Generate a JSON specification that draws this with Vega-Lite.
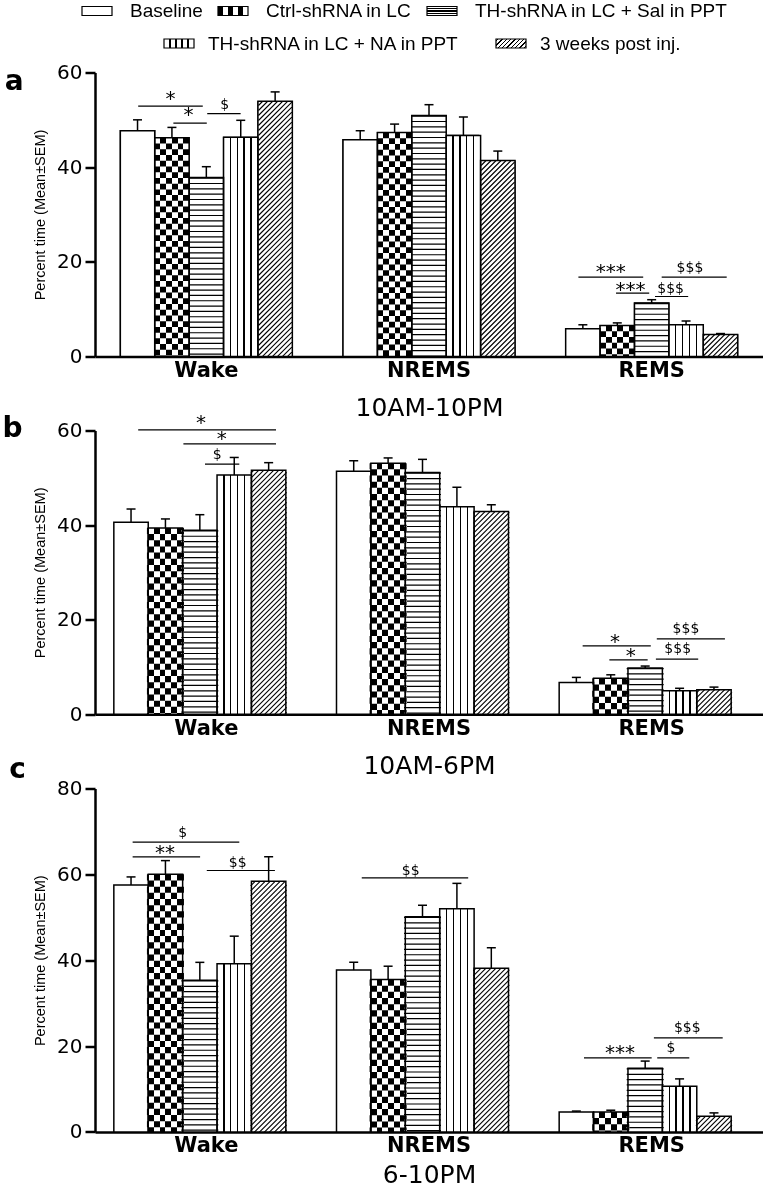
{
"$schema": "https://vega.github.io/schema/vega-lite/v6.json",
"background": "white",
"padding": {"left": 2, "top": -5.5, "right": 0, "bottom": 0},
"bounds": "flush",
"spacing": 74,
"config": {
  "view": {"stroke": null},
  "font": "Liberation Sans",
  "axis": {"grid": false, "domainColor": "black", "domainWidth": 2.5, "tickColor": "black", "labelColor": "black", "titleColor": "black"},
  "axisY": {"labelFont": "DejaVu Sans", "labelFontSize": 20, "tickSize": 10, "tickWidth": 2.5, "labelPadding": 3, "titleFont": "Liberation Sans", "titleFontSize": 14.5, "titleFontWeight": "normal", "titlePadding": 9},
  "axisX": {"labelFont": "DejaVu Sans", "labelFontSize": 21, "labelFontWeight": "bold", "ticks": false, "labelPadding": 3, "labelAngle": 0, "titleFont": "DejaVu Sans", "titleFontSize": 25, "titleFontWeight": "normal", "titlePadding": 15},
  "legend": {"labelFont": "Liberation Sans", "labelFontSize": 19, "labelColor": "black", "labelLimit": 400, "padding": 0, "symbolStrokeColor": "black", "symbolStrokeWidth": 1.2},
  "title": {"color": "black"}
},
"datasets": {
  "a": [
    {"state": "Wake", "series": "Baseline", "mean": 47.7, "top": 50.0},
    {"state": "Wake", "series": "Ctrl-shRNA in LC", "mean": 46.2, "top": 48.4},
    {"state": "Wake", "series": "TH-shRNA in LC + Sal in PPT", "mean": 37.8, "top": 40.1},
    {"state": "Wake", "series": "TH-shRNA in LC + NA in PPT", "mean": 46.3, "top": 49.9},
    {"state": "Wake", "series": "3 weeks post inj.", "mean": 53.9, "top": 55.9},
    {"state": "NREMS", "series": "Baseline", "mean": 45.8, "top": 47.7},
    {"state": "NREMS", "series": "Ctrl-shRNA in LC", "mean": 47.3, "top": 49.1},
    {"state": "NREMS", "series": "TH-shRNA in LC + Sal in PPT", "mean": 50.9, "top": 53.2},
    {"state": "NREMS", "series": "TH-shRNA in LC + NA in PPT", "mean": 46.7, "top": 50.6},
    {"state": "NREMS", "series": "3 weeks post inj.", "mean": 41.4, "top": 43.4},
    {"state": "REMS", "series": "Baseline", "mean": 5.85, "top": 6.7},
    {"state": "REMS", "series": "Ctrl-shRNA in LC", "mean": 6.55, "top": 7.1},
    {"state": "REMS", "series": "TH-shRNA in LC + Sal in PPT", "mean": 11.3, "top": 12.0},
    {"state": "REMS", "series": "TH-shRNA in LC + NA in PPT", "mean": 6.7, "top": 7.5},
    {"state": "REMS", "series": "3 weeks post inj.", "mean": 4.65, "top": 4.85}
  ],
  "b": [
    {"state": "Wake", "series": "Baseline", "mean": 40.6, "top": 43.4},
    {"state": "Wake", "series": "Ctrl-shRNA in LC", "mean": 39.4, "top": 41.3},
    {"state": "Wake", "series": "TH-shRNA in LC + Sal in PPT", "mean": 38.9, "top": 42.2},
    {"state": "Wake", "series": "TH-shRNA in LC + NA in PPT", "mean": 50.6, "top": 54.3},
    {"state": "Wake", "series": "3 weeks post inj.", "mean": 51.6, "top": 53.2},
    {"state": "NREMS", "series": "Baseline", "mean": 51.4, "top": 53.6},
    {"state": "NREMS", "series": "Ctrl-shRNA in LC", "mean": 53.1, "top": 54.2},
    {"state": "NREMS", "series": "TH-shRNA in LC + Sal in PPT", "mean": 51.1, "top": 53.9},
    {"state": "NREMS", "series": "TH-shRNA in LC + NA in PPT", "mean": 43.9, "top": 48.0},
    {"state": "NREMS", "series": "3 weeks post inj.", "mean": 42.9, "top": 44.3},
    {"state": "REMS", "series": "Baseline", "mean": 6.7, "top": 7.8},
    {"state": "REMS", "series": "Ctrl-shRNA in LC", "mean": 7.6, "top": 8.35},
    {"state": "REMS", "series": "TH-shRNA in LC + Sal in PPT", "mean": 9.8, "top": 10.2},
    {"state": "REMS", "series": "TH-shRNA in LC + NA in PPT", "mean": 5.0, "top": 5.5},
    {"state": "REMS", "series": "3 weeks post inj.", "mean": 5.2, "top": 5.75}
  ],
  "c": [
    {"state": "Wake", "series": "Baseline", "mean": 57.5, "top": 59.4},
    {"state": "Wake", "series": "Ctrl-shRNA in LC", "mean": 60.0, "top": 63.2},
    {"state": "Wake", "series": "TH-shRNA in LC + Sal in PPT", "mean": 35.3, "top": 39.5},
    {"state": "Wake", "series": "TH-shRNA in LC + NA in PPT", "mean": 39.2, "top": 45.6},
    {"state": "Wake", "series": "3 weeks post inj.", "mean": 58.4, "top": 64.1},
    {"state": "NREMS", "series": "Baseline", "mean": 37.7, "top": 39.5},
    {"state": "NREMS", "series": "Ctrl-shRNA in LC", "mean": 35.5, "top": 38.6},
    {"state": "NREMS", "series": "TH-shRNA in LC + Sal in PPT", "mean": 50.1, "top": 52.8},
    {"state": "NREMS", "series": "TH-shRNA in LC + NA in PPT", "mean": 52.0, "top": 57.9},
    {"state": "NREMS", "series": "3 weeks post inj.", "mean": 38.1, "top": 42.9},
    {"state": "REMS", "series": "Baseline", "mean": 4.66, "top": 4.85},
    {"state": "REMS", "series": "Ctrl-shRNA in LC", "mean": 4.66, "top": 5.05},
    {"state": "REMS", "series": "TH-shRNA in LC + Sal in PPT", "mean": 14.8, "top": 16.5},
    {"state": "REMS", "series": "TH-shRNA in LC + NA in PPT", "mean": 10.65, "top": 12.35},
    {"state": "REMS", "series": "3 weeks post inj.", "mean": 3.66, "top": 4.43}
  ],
  "sa": [
    {"x1": 0.194, "x2": 0.484, "ly": 52.9, "tx": 0.339, "ty": 53.18, "label": "*"},
    {"x1": 0.352, "x2": 0.502, "ly": 49.3, "tx": 0.42, "ty": 49.68, "label": "*"},
    {"x1": 0.504, "x2": 0.654, "ly": 51.3, "tx": 0.582, "ty": 52.36, "label": "$"},
    {"x1": 2.171, "x2": 2.462, "ly": 16.75, "tx": 2.316, "ty": 16.57, "label": "***"},
    {"x1": 2.34, "x2": 2.489, "ly": 13.37, "tx": 2.405, "ty": 12.83, "label": "***"},
    {"x1": 2.545, "x2": 2.837, "ly": 16.75, "tx": 2.672, "ty": 17.94, "label": "$$$"},
    {"x1": 2.515, "x2": 2.664, "ly": 12.68, "tx": 2.585, "ty": 13.44, "label": "$$$"}
  ],
  "sb": [
    {"x1": 0.194, "x2": 0.813, "ly": 60.15, "tx": 0.476, "ty": 60.3, "label": "*"},
    {"x1": 0.397, "x2": 0.813, "ly": 57.19, "tx": 0.569, "ty": 57.0, "label": "*"},
    {"x1": 0.494, "x2": 0.648, "ly": 52.9, "tx": 0.549, "ty": 53.93, "label": "$"},
    {"x1": 2.19, "x2": 2.496, "ly": 14.48, "tx": 2.335, "ty": 14.0, "label": "*"},
    {"x1": 2.31, "x2": 2.482, "ly": 11.52, "tx": 2.406, "ty": 10.98, "label": "*"},
    {"x1": 2.523, "x2": 2.829, "ly": 15.96, "tx": 2.654, "ty": 17.29, "label": "$$$"},
    {"x1": 2.519, "x2": 2.709, "ly": 11.67, "tx": 2.617, "ty": 12.92, "label": "$$$"}
  ],
  "sc": [
    {"x1": 0.169, "x2": 0.648, "ly": 67.49, "tx": 0.394, "ty": 68.8, "label": "$"},
    {"x1": 0.169, "x2": 0.472, "ly": 64.07, "tx": 0.314, "ty": 63.63, "label": "**"},
    {"x1": 0.502, "x2": 0.808, "ly": 60.9, "tx": 0.641, "ty": 61.65, "label": "$$"},
    {"x1": 1.198, "x2": 1.676, "ly": 59.17, "tx": 1.418, "ty": 59.94, "label": "$$"},
    {"x1": 2.196, "x2": 2.5, "ly": 17.24, "tx": 2.358, "ty": 17.03, "label": "***"},
    {"x1": 2.525, "x2": 2.669, "ly": 17.24, "tx": 2.587, "ty": 18.54, "label": "$"},
    {"x1": 2.51, "x2": 2.819, "ly": 21.9, "tx": 2.66, "ty": 23.2, "label": "$$$"}
  ]
},
"vconcat": [
  {
    "width": 668, "height": 284,
    "title": {"text": "a", "orient": "left", "anchor": "end", "angle": 0, "frame": "group", "align": "right", "baseline": "alphabetic", "dx": 19, "dy": 17.3, "offset": 9, "font": "DejaVu Sans", "fontSize": 28, "fontWeight": "bold", "color": "black"},
    "layer": [
      {
        "data": {"name": "a"},
        "encoding": {
          "x": {"field": "state", "type": "nominal", "sort": ["Wake", "NREMS", "REMS"], "scale": {"paddingInner": 0.2275, "paddingOuter": 0.11375}, "axis": {"title": "10AM-10PM"}},
          "xOffset": {"field": "series", "type": "nominal", "sort": ["Baseline", "Ctrl-shRNA in LC", "TH-shRNA in LC + Sal in PPT", "TH-shRNA in LC + NA in PPT", "3 weeks post inj."], "scale": {"paddingInner": 0, "paddingOuter": 0}},
          "y": {"field": "mean", "type": "quantitative", "scale": {"domain": [0, 60], "nice": false}, "axis": {"title": "Percent time (Mean±SEM)", "values": [0, 20, 40, 60]}}
        },
        "layer": [
          {
            "transform": [{"filter": {"field": "series", "oneOf": ["Baseline", "Ctrl-shRNA in LC", "TH-shRNA in LC + Sal in PPT"]}}],
            "mark": {"type": "bar", "stroke": "black", "strokeWidth": 1.2},
            "encoding": {"fill": {"field": "series", "type": "nominal",
              "scale": {"domain": ["Baseline", "Ctrl-shRNA in LC", "TH-shRNA in LC + Sal in PPT"], "range": [
                "white",
                {"expr": "{gradient:'linear',x1:0,y1:0,x2:1,y2:0,stops:[{offset:0,color:'#000'},{offset:0.1667,color:'#000'},{offset:0.1667,color:'#fff'},{offset:0.3333,color:'#fff'},{offset:0.3333,color:'#000'},{offset:0.5,color:'#000'},{offset:0.5,color:'#fff'},{offset:0.6667,color:'#fff'},{offset:0.6667,color:'#000'},{offset:0.8333,color:'#000'},{offset:0.8333,color:'#fff'},{offset:1,color:'#fff'}]}"},
                {"expr": "{gradient:'linear',x1:0,y1:0,x2:0,y2:1,stops:[{offset:0,color:'#fff'},{offset:0.2,color:'#fff'},{offset:0.2,color:'#000'},{offset:0.32,color:'#000'},{offset:0.32,color:'#fff'},{offset:0.44,color:'#fff'},{offset:0.44,color:'#000'},{offset:0.56,color:'#000'},{offset:0.56,color:'#fff'},{offset:0.68,color:'#fff'},{offset:0.68,color:'#000'},{offset:0.8,color:'#000'},{offset:0.8,color:'#fff'},{offset:1,color:'#fff'}]}"}
              ]},
              "legend": {"title": null, "orient": "none", "legendX": -14, "legendY": -77.5, "direction": "horizontal", "columns": 3, "labelOffset": 17, "columnPadding": 12, "symbolType": "M-1,-0.3H1V0.3H-1Z", "symbolSize": 900}
            }}
          },
          {
            "transform": [{"filter": {"field": "series", "oneOf": ["TH-shRNA in LC + NA in PPT", "3 weeks post inj."]}}],
            "mark": {"type": "bar", "stroke": "black", "strokeWidth": 1.2},
            "encoding": {"fill": {"field": "series", "type": "nominal",
              "scale": {"domain": ["TH-shRNA in LC + NA in PPT", "3 weeks post inj."], "range": [
                {"expr": "{gradient:'linear',x1:0,y1:0,x2:1,y2:0,stops:[{offset:0,color:'#fff'},{offset:0.18,color:'#fff'},{offset:0.18,color:'#000'},{offset:0.218,color:'#000'},{offset:0.218,color:'#fff'},{offset:0.38,color:'#fff'},{offset:0.38,color:'#000'},{offset:0.418,color:'#000'},{offset:0.418,color:'#fff'},{offset:0.58,color:'#fff'},{offset:0.58,color:'#000'},{offset:0.618,color:'#000'},{offset:0.618,color:'#fff'},{offset:0.78,color:'#fff'},{offset:0.78,color:'#000'},{offset:0.818,color:'#000'},{offset:0.818,color:'#fff'},{offset:1,color:'#fff'}]}"},
                {"expr": "{gradient:'linear',x1:0,y1:0,x2:1.193,y2:0.358,stops:[{offset:0,color:'#fff'},{offset:0.04,color:'#fff'},{offset:0.04,color:'#000'},{offset:0.075,color:'#000'},{offset:0.075,color:'#fff'},{offset:0.151,color:'#fff'},{offset:0.151,color:'#000'},{offset:0.186,color:'#000'},{offset:0.186,color:'#fff'},{offset:0.262,color:'#fff'},{offset:0.262,color:'#000'},{offset:0.297,color:'#000'},{offset:0.297,color:'#fff'},{offset:0.373,color:'#fff'},{offset:0.373,color:'#000'},{offset:0.408,color:'#000'},{offset:0.408,color:'#fff'},{offset:0.484,color:'#fff'},{offset:0.484,color:'#000'},{offset:0.519,color:'#000'},{offset:0.519,color:'#fff'},{offset:0.596,color:'#fff'},{offset:0.596,color:'#000'},{offset:0.631,color:'#000'},{offset:0.631,color:'#fff'},{offset:0.707,color:'#fff'},{offset:0.707,color:'#000'},{offset:0.742,color:'#000'},{offset:0.742,color:'#fff'},{offset:0.818,color:'#fff'},{offset:0.818,color:'#000'},{offset:0.853,color:'#000'},{offset:0.853,color:'#fff'},{offset:0.929,color:'#fff'},{offset:0.929,color:'#000'},{offset:0.964,color:'#000'},{offset:0.964,color:'#fff'},{offset:1,color:'#fff'}]}"}
              ]},
              "legend": {"title": null, "orient": "none", "legendX": 68, "legendY": -45, "direction": "horizontal", "columns": 2, "labelOffset": 13, "columnPadding": 33, "symbolType": "M-1,-0.3H1V0.3H-1Z", "symbolSize": 900}
            }}
          },
          {
            "mark": {"type": "bar", "strokeWidth": 0},
            "encoding": {"fill": {"condition": [
              {"test": "datum.series === 'Ctrl-shRNA in LC'", "value": {"expr": "{gradient:'linear',x1:0,y1:0,x2:1,y2:0,stops:[{offset:0,color:'#000'},{offset:0.1667,color:'#000'},{offset:0.1667,color:'#fff'},{offset:0.3333,color:'#fff'},{offset:0.3333,color:'#000'},{offset:0.5,color:'#000'},{offset:0.5,color:'#fff'},{offset:0.6667,color:'#fff'},{offset:0.6667,color:'#000'},{offset:0.8333,color:'#000'},{offset:0.8333,color:'#fff'},{offset:1,color:'#fff'}]}"}},
              {"test": "datum.series === 'TH-shRNA in LC + NA in PPT'", "value": {"expr": "{gradient:'linear',x1:0,y1:0,x2:1,y2:0,stops:[{offset:0,color:'#fff'},{offset:0.18,color:'#fff'},{offset:0.18,color:'#000'},{offset:0.218,color:'#000'},{offset:0.218,color:'#fff'},{offset:0.38,color:'#fff'},{offset:0.38,color:'#000'},{offset:0.418,color:'#000'},{offset:0.418,color:'#fff'},{offset:0.58,color:'#fff'},{offset:0.58,color:'#000'},{offset:0.618,color:'#000'},{offset:0.618,color:'#fff'},{offset:0.78,color:'#fff'},{offset:0.78,color:'#000'},{offset:0.818,color:'#000'},{offset:0.818,color:'#fff'},{offset:1,color:'#fff'}]}"}}
            ], "value": "white"}}
          },
          {
            "transform": [{"filter": "datum.series === '3 weeks post inj.'"}],
            "mark": {"type": "point", "shape": "M-16.7,34l33.4,-33.4M-16.7,29l33.4,-33.4M-16.7,24l33.4,-33.4M-16.7,19l33.4,-33.4M-16.7,14l33.4,-33.4M-16.7,9l33.4,-33.4M-16.7,4l33.4,-33.4M-16.7,-1l33.4,-33.4M-16.7,-6l33.4,-33.4M-16.7,-11l33.4,-33.4M-16.7,-16l33.4,-33.4M-16.7,-21l33.4,-33.4M-16.7,-26l33.4,-33.4M-16.7,-31l33.4,-33.4M-16.7,-36l33.4,-33.4M-16.7,-41l33.4,-33.4M-16.7,-46l33.4,-33.4M-16.7,-51l33.4,-33.4M-16.7,-56l33.4,-33.4M-16.7,-61l33.4,-33.4M-16.7,-66l33.4,-33.4M-16.7,-71l33.4,-33.4M-16.7,-76l33.4,-33.4M-16.7,-81l33.4,-33.4M-16.7,-86l33.4,-33.4M-16.7,-91l33.4,-33.4M-16.7,-96l33.4,-33.4M-16.7,-101l33.4,-33.4M-16.7,-106l33.4,-33.4M-16.7,-111l33.4,-33.4M-16.7,-116l33.4,-33.4M-16.7,-121l33.4,-33.4M-16.7,-126l33.4,-33.4M-16.7,-131l33.4,-33.4M-16.7,-136l33.4,-33.4M-16.7,-141l33.4,-33.4M-16.7,-146l33.4,-33.4M-16.7,-151l33.4,-33.4M-16.7,-156l33.4,-33.4M-16.7,-161l33.4,-33.4M-16.7,-166l33.4,-33.4M-16.7,-171l33.4,-33.4M-16.7,-176l33.4,-33.4M-16.7,-181l33.4,-33.4M-16.7,-186l33.4,-33.4M-16.7,-191l33.4,-33.4M-16.7,-196l33.4,-33.4M-16.7,-201l33.4,-33.4M-16.7,-206l33.4,-33.4M-16.7,-211l33.4,-33.4M-16.7,-216l33.4,-33.4M-16.7,-221l33.4,-33.4M-16.7,-226l33.4,-33.4M-16.7,-231l33.4,-33.4M-16.7,-236l33.4,-33.4M-16.7,-241l33.4,-33.4M-16.7,-246l33.4,-33.4M-16.7,-251l33.4,-33.4M-16.7,-256l33.4,-33.4", "size": 4, "filled": false, "stroke": "black", "strokeWidth": 1.1, "opacity": 1, "clip": true},
            "encoding": {"y": {"datum": 0, "type": "quantitative", "title": "Percent time (Mean±SEM)"}}
          },
          {
            "transform": [{"filter": "datum.series === '3 weeks post inj.'"}],
            "mark": {"type": "rule", "stroke": "white", "strokeWidth": 37},
            "encoding": {"y2": {"datum": 61}}
          },
          {
            "transform": [{"filter": "datum.series === 'TH-shRNA in LC + Sal in PPT'"}],
            "mark": {"type": "rule", "stroke": "black", "strokeWidth": 34.4, "strokeDash": [1.2, 4.13]},
            "encoding": {"y2": {"datum": 0}}
          },
          {
            "transform": [{"filter": "datum.series === 'Ctrl-shRNA in LC'"}],
            "mark": {"type": "rule", "stroke": "white", "strokeWidth": 34.4, "strokeDash": [5.73, 5.73], "blend": "difference"},
            "encoding": {"y2": {"datum": 0}}
          },
          {
            "mark": {"type": "bar", "fill": "transparent", "stroke": "black", "strokeWidth": 1.5}
          },
          {
            "mark": {"type": "rule", "stroke": "black", "strokeWidth": 1.5},
            "encoding": {"y2": {"field": "top"}}
          },
          {
            "mark": {"type": "tick", "orient": "horizontal", "size": 9, "thickness": 1.5, "color": "black", "opacity": 1},
            "encoding": {"y": {"field": "top", "type": "quantitative", "title": "Percent time (Mean±SEM)"}}
          }
        ],
        "resolve": {"scale": {"fill": "independent"}, "legend": {"fill": "independent"}}
      },
      {
        "data": {"name": "sa"},
        "layer": [
          {
            "mark": {"type": "rule", "stroke": "black", "strokeWidth": 1.2},
            "encoding": {
              "x": {"field": "x1", "type": "quantitative", "scale": {"domain": [0, 3], "nice": false, "zero": false}, "axis": null},
              "x2": {"field": "x2"},
              "y": {"field": "ly", "type": "quantitative", "scale": {"domain": [0, 60], "nice": false}, "title": "Percent time (Mean±SEM)"}
            }
          },
          {
            "mark": {"type": "text", "font": "DejaVu Sans", "baseline": "alphabetic", "align": "center", "color": "black"},
            "encoding": {
              "x": {"field": "tx", "type": "quantitative", "scale": {"domain": [0, 3], "nice": false, "zero": false}, "axis": null},
              "y": {"field": "ty", "type": "quantitative", "scale": {"domain": [0, 60], "nice": false}, "title": "Percent time (Mean±SEM)"},
              "text": {"field": "label"},
              "size": {"condition": {"test": "indexof(datum.label, '*') >= 0", "value": 20}, "value": 14}
            }
          }
        ]
      }
    ],
    "resolve": {"scale": {"x": "independent"}, "axis": {"x": "independent"}}
  },
  {
    "width": 668, "height": 283.8,
    "title": {"text": "b", "orient": "left", "anchor": "end", "angle": 0, "frame": "group", "align": "right", "baseline": "alphabetic", "dx": 19, "dy": 6, "offset": 9, "font": "DejaVu Sans", "fontSize": 28, "fontWeight": "bold", "color": "black"},
    "layer": [
      {
        "data": {"name": "b"},
        "encoding": {
          "x": {"field": "state", "type": "nominal", "sort": ["Wake", "NREMS", "REMS"], "scale": {"paddingInner": 0.16916, "paddingOuter": 0.08458}, "axis": {"title": "10AM-6PM"}},
          "xOffset": {"field": "series", "type": "nominal", "sort": ["Baseline", "Ctrl-shRNA in LC", "TH-shRNA in LC + Sal in PPT", "TH-shRNA in LC + NA in PPT", "3 weeks post inj."], "scale": {"paddingInner": 0, "paddingOuter": 0}},
          "y": {"field": "mean", "type": "quantitative", "scale": {"domain": [0, 60], "nice": false}, "axis": {"title": "Percent time (Mean±SEM)", "values": [0, 20, 40, 60]}}
        },
        "layer": [
          {
            "mark": {"type": "bar", "strokeWidth": 0},
            "encoding": {"fill": {"condition": [
              {"test": "datum.series === 'Ctrl-shRNA in LC'", "value": {"expr": "{gradient:'linear',x1:0,y1:0,x2:1,y2:0,stops:[{offset:0,color:'#000'},{offset:0.1667,color:'#000'},{offset:0.1667,color:'#fff'},{offset:0.3333,color:'#fff'},{offset:0.3333,color:'#000'},{offset:0.5,color:'#000'},{offset:0.5,color:'#fff'},{offset:0.6667,color:'#fff'},{offset:0.6667,color:'#000'},{offset:0.8333,color:'#000'},{offset:0.8333,color:'#fff'},{offset:1,color:'#fff'}]}"}},
              {"test": "datum.series === 'TH-shRNA in LC + NA in PPT'", "value": {"expr": "{gradient:'linear',x1:0,y1:0,x2:1,y2:0,stops:[{offset:0,color:'#fff'},{offset:0.18,color:'#fff'},{offset:0.18,color:'#000'},{offset:0.218,color:'#000'},{offset:0.218,color:'#fff'},{offset:0.38,color:'#fff'},{offset:0.38,color:'#000'},{offset:0.418,color:'#000'},{offset:0.418,color:'#fff'},{offset:0.58,color:'#fff'},{offset:0.58,color:'#000'},{offset:0.618,color:'#000'},{offset:0.618,color:'#fff'},{offset:0.78,color:'#fff'},{offset:0.78,color:'#000'},{offset:0.818,color:'#000'},{offset:0.818,color:'#fff'},{offset:1,color:'#fff'}]}"}}
            ], "value": "white"}}
          },
          {
            "transform": [{"filter": "datum.series === '3 weeks post inj.'"}],
            "mark": {"type": "point", "shape": "M-18,34l36,-36M-18,29l36,-36M-18,24l36,-36M-18,19l36,-36M-18,14l36,-36M-18,9l36,-36M-18,4l36,-36M-18,-1l36,-36M-18,-6l36,-36M-18,-11l36,-36M-18,-16l36,-36M-18,-21l36,-36M-18,-26l36,-36M-18,-31l36,-36M-18,-36l36,-36M-18,-41l36,-36M-18,-46l36,-36M-18,-51l36,-36M-18,-56l36,-36M-18,-61l36,-36M-18,-66l36,-36M-18,-71l36,-36M-18,-76l36,-36M-18,-81l36,-36M-18,-86l36,-36M-18,-91l36,-36M-18,-96l36,-36M-18,-101l36,-36M-18,-106l36,-36M-18,-111l36,-36M-18,-116l36,-36M-18,-121l36,-36M-18,-126l36,-36M-18,-131l36,-36M-18,-136l36,-36M-18,-141l36,-36M-18,-146l36,-36M-18,-151l36,-36M-18,-156l36,-36M-18,-161l36,-36M-18,-166l36,-36M-18,-171l36,-36M-18,-176l36,-36M-18,-181l36,-36M-18,-186l36,-36M-18,-191l36,-36M-18,-196l36,-36M-18,-201l36,-36M-18,-206l36,-36M-18,-211l36,-36M-18,-216l36,-36M-18,-221l36,-36M-18,-226l36,-36M-18,-231l36,-36M-18,-236l36,-36M-18,-241l36,-36M-18,-246l36,-36M-18,-251l36,-36M-18,-256l36,-36", "size": 4, "filled": false, "stroke": "black", "strokeWidth": 1.1, "opacity": 1, "clip": true},
            "encoding": {"y": {"datum": 0, "type": "quantitative", "title": "Percent time (Mean±SEM)"}}
          },
          {
            "transform": [{"filter": "datum.series === '3 weeks post inj.'"}],
            "mark": {"type": "rule", "stroke": "white", "strokeWidth": 39.6},
            "encoding": {"y2": {"datum": 61}}
          },
          {
            "transform": [{"filter": "datum.series === 'TH-shRNA in LC + Sal in PPT'"}],
            "mark": {"type": "rule", "stroke": "black", "strokeWidth": 37, "strokeDash": [1.2, 4.13]},
            "encoding": {"y2": {"datum": 0}}
          },
          {
            "transform": [{"filter": "datum.series === 'Ctrl-shRNA in LC'"}],
            "mark": {"type": "rule", "stroke": "white", "strokeWidth": 37, "strokeDash": [6.17, 6.17], "blend": "difference"},
            "encoding": {"y2": {"datum": 0}}
          },
          {
            "mark": {"type": "bar", "fill": "transparent", "stroke": "black", "strokeWidth": 1.5}
          },
          {
            "mark": {"type": "rule", "stroke": "black", "strokeWidth": 1.5},
            "encoding": {"y2": {"field": "top"}}
          },
          {
            "mark": {"type": "tick", "orient": "horizontal", "size": 9, "thickness": 1.5, "color": "black", "opacity": 1},
            "encoding": {"y": {"field": "top", "type": "quantitative", "title": "Percent time (Mean±SEM)"}}
          }
        ]
      },
      {
        "data": {"name": "sb"},
        "layer": [
          {
            "mark": {"type": "rule", "stroke": "black", "strokeWidth": 1.2},
            "encoding": {
              "x": {"field": "x1", "type": "quantitative", "scale": {"domain": [0, 3], "nice": false, "zero": false}, "axis": null},
              "x2": {"field": "x2"},
              "y": {"field": "ly", "type": "quantitative", "scale": {"domain": [0, 60], "nice": false}, "title": "Percent time (Mean±SEM)"}
            }
          },
          {
            "mark": {"type": "text", "font": "DejaVu Sans", "baseline": "alphabetic", "align": "center", "color": "black"},
            "encoding": {
              "x": {"field": "tx", "type": "quantitative", "scale": {"domain": [0, 3], "nice": false, "zero": false}, "axis": null},
              "y": {"field": "ty", "type": "quantitative", "scale": {"domain": [0, 60], "nice": false}, "title": "Percent time (Mean±SEM)"},
              "text": {"field": "label"},
              "size": {"condition": {"test": "indexof(datum.label, '*') >= 0", "value": 20}, "value": 14}
            }
          }
        ]
      }
    ],
    "resolve": {"scale": {"x": "independent"}, "axis": {"x": "independent"}}
  },
  {
    "width": 668, "height": 343.4,
    "title": {"text": "c", "orient": "left", "anchor": "end", "angle": 0, "frame": "group", "align": "right", "baseline": "alphabetic", "dx": 19, "dy": -10.6, "offset": 9, "font": "DejaVu Sans", "fontSize": 28, "fontWeight": "bold", "color": "black"},
    "layer": [
      {
        "data": {"name": "c"},
        "encoding": {
          "x": {"field": "state", "type": "nominal", "sort": ["Wake", "NREMS", "REMS"], "scale": {"paddingInner": 0.16916, "paddingOuter": 0.08458}, "axis": {"title": "6-10PM", "titlePadding": 7}},
          "xOffset": {"field": "series", "type": "nominal", "sort": ["Baseline", "Ctrl-shRNA in LC", "TH-shRNA in LC + Sal in PPT", "TH-shRNA in LC + NA in PPT", "3 weeks post inj."], "scale": {"paddingInner": 0, "paddingOuter": 0}},
          "y": {"field": "mean", "type": "quantitative", "scale": {"domain": [0, 80], "nice": false}, "axis": {"title": "Percent time (Mean±SEM)", "values": [0, 20, 40, 60, 80]}}
        },
        "layer": [
          {
            "mark": {"type": "bar", "strokeWidth": 0},
            "encoding": {"fill": {"condition": [
              {"test": "datum.series === 'Ctrl-shRNA in LC'", "value": {"expr": "{gradient:'linear',x1:0,y1:0,x2:1,y2:0,stops:[{offset:0,color:'#000'},{offset:0.1667,color:'#000'},{offset:0.1667,color:'#fff'},{offset:0.3333,color:'#fff'},{offset:0.3333,color:'#000'},{offset:0.5,color:'#000'},{offset:0.5,color:'#fff'},{offset:0.6667,color:'#fff'},{offset:0.6667,color:'#000'},{offset:0.8333,color:'#000'},{offset:0.8333,color:'#fff'},{offset:1,color:'#fff'}]}"}},
              {"test": "datum.series === 'TH-shRNA in LC + NA in PPT'", "value": {"expr": "{gradient:'linear',x1:0,y1:0,x2:1,y2:0,stops:[{offset:0,color:'#fff'},{offset:0.18,color:'#fff'},{offset:0.18,color:'#000'},{offset:0.218,color:'#000'},{offset:0.218,color:'#fff'},{offset:0.38,color:'#fff'},{offset:0.38,color:'#000'},{offset:0.418,color:'#000'},{offset:0.418,color:'#fff'},{offset:0.58,color:'#fff'},{offset:0.58,color:'#000'},{offset:0.618,color:'#000'},{offset:0.618,color:'#fff'},{offset:0.78,color:'#fff'},{offset:0.78,color:'#000'},{offset:0.818,color:'#000'},{offset:0.818,color:'#fff'},{offset:1,color:'#fff'}]}"}}
            ], "value": "white"}}
          },
          {
            "transform": [{"filter": "datum.series === '3 weeks post inj.'"}],
            "mark": {"type": "point", "shape": "M-18,34l36,-36M-18,29l36,-36M-18,24l36,-36M-18,19l36,-36M-18,14l36,-36M-18,9l36,-36M-18,4l36,-36M-18,-1l36,-36M-18,-6l36,-36M-18,-11l36,-36M-18,-16l36,-36M-18,-21l36,-36M-18,-26l36,-36M-18,-31l36,-36M-18,-36l36,-36M-18,-41l36,-36M-18,-46l36,-36M-18,-51l36,-36M-18,-56l36,-36M-18,-61l36,-36M-18,-66l36,-36M-18,-71l36,-36M-18,-76l36,-36M-18,-81l36,-36M-18,-86l36,-36M-18,-91l36,-36M-18,-96l36,-36M-18,-101l36,-36M-18,-106l36,-36M-18,-111l36,-36M-18,-116l36,-36M-18,-121l36,-36M-18,-126l36,-36M-18,-131l36,-36M-18,-136l36,-36M-18,-141l36,-36M-18,-146l36,-36M-18,-151l36,-36M-18,-156l36,-36M-18,-161l36,-36M-18,-166l36,-36M-18,-171l36,-36M-18,-176l36,-36M-18,-181l36,-36M-18,-186l36,-36M-18,-191l36,-36M-18,-196l36,-36M-18,-201l36,-36M-18,-206l36,-36M-18,-211l36,-36M-18,-216l36,-36M-18,-221l36,-36M-18,-226l36,-36M-18,-231l36,-36M-18,-236l36,-36M-18,-241l36,-36M-18,-246l36,-36M-18,-251l36,-36M-18,-256l36,-36", "size": 4, "filled": false, "stroke": "black", "strokeWidth": 1.1, "opacity": 1, "clip": true},
            "encoding": {"y": {"datum": 0, "type": "quantitative", "title": "Percent time (Mean±SEM)"}}
          },
          {
            "transform": [{"filter": "datum.series === '3 weeks post inj.'"}],
            "mark": {"type": "rule", "stroke": "white", "strokeWidth": 39.6},
            "encoding": {"y2": {"datum": 81}}
          },
          {
            "transform": [{"filter": "datum.series === 'TH-shRNA in LC + Sal in PPT'"}],
            "mark": {"type": "rule", "stroke": "black", "strokeWidth": 37, "strokeDash": [1.2, 4.13]},
            "encoding": {"y2": {"datum": 0}}
          },
          {
            "transform": [{"filter": "datum.series === 'Ctrl-shRNA in LC'"}],
            "mark": {"type": "rule", "stroke": "white", "strokeWidth": 37, "strokeDash": [6.17, 6.17], "blend": "difference"},
            "encoding": {"y2": {"datum": 0}}
          },
          {
            "mark": {"type": "bar", "fill": "transparent", "stroke": "black", "strokeWidth": 1.5}
          },
          {
            "mark": {"type": "rule", "stroke": "black", "strokeWidth": 1.5},
            "encoding": {"y2": {"field": "top"}}
          },
          {
            "mark": {"type": "tick", "orient": "horizontal", "size": 9, "thickness": 1.5, "color": "black", "opacity": 1},
            "encoding": {"y": {"field": "top", "type": "quantitative", "title": "Percent time (Mean±SEM)"}}
          }
        ]
      },
      {
        "data": {"name": "sc"},
        "layer": [
          {
            "mark": {"type": "rule", "stroke": "black", "strokeWidth": 1.2},
            "encoding": {
              "x": {"field": "x1", "type": "quantitative", "scale": {"domain": [0, 3], "nice": false, "zero": false}, "axis": null},
              "x2": {"field": "x2"},
              "y": {"field": "ly", "type": "quantitative", "scale": {"domain": [0, 80], "nice": false}, "title": "Percent time (Mean±SEM)"}
            }
          },
          {
            "mark": {"type": "text", "font": "DejaVu Sans", "baseline": "alphabetic", "align": "center", "color": "black"},
            "encoding": {
              "x": {"field": "tx", "type": "quantitative", "scale": {"domain": [0, 3], "nice": false, "zero": false}, "axis": null},
              "y": {"field": "ty", "type": "quantitative", "scale": {"domain": [0, 80], "nice": false}, "title": "Percent time (Mean±SEM)"},
              "text": {"field": "label"},
              "size": {"condition": {"test": "indexof(datum.label, '*') >= 0", "value": 20}, "value": 14}
            }
          }
        ]
      }
    ],
    "resolve": {"scale": {"x": "independent"}, "axis": {"x": "independent"}}
  }
]
}
